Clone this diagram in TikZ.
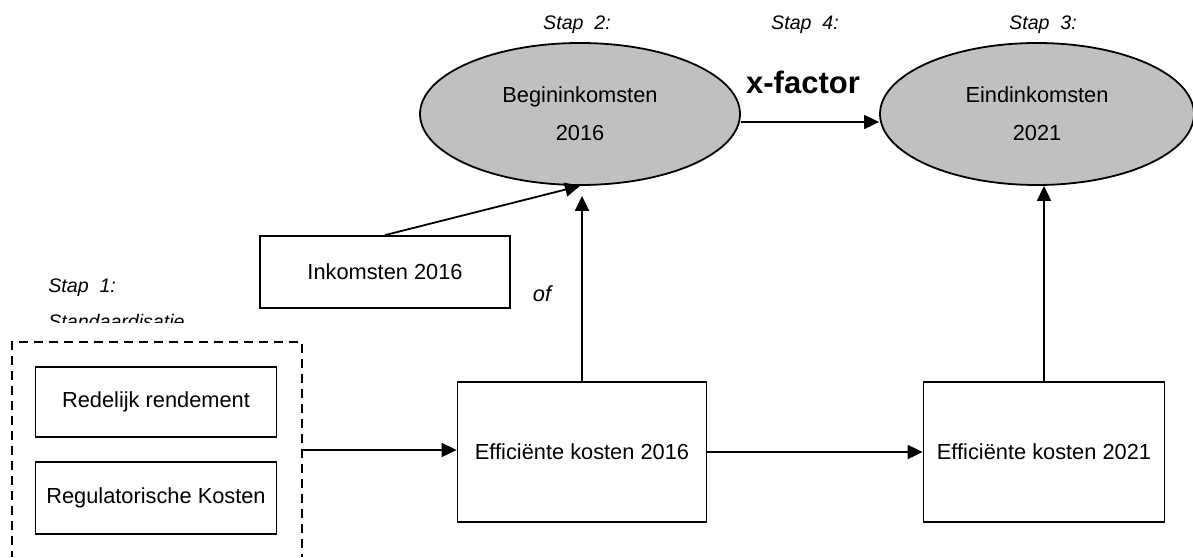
\documentclass[tikz,border=0pt]{standalone}
\usepackage{fontspec}
\setmainfont{Liberation Sans}
\usetikzlibrary{arrows.meta,shapes.geometric,positioning}
\definecolor{ovalgray}{HTML}{C0C0C0}

\begin{document}
\begin{tikzpicture}[x=0.5pt,y=-0.5pt,>={Triangle[length=7.5pt,width=7pt]},
box/.style={draw,line width=0.9pt,minimum width=125pt,minimum height=36pt,inner sep=2pt,font=\fontsize{10.9}{12}\selectfont},
bigbox/.style={box,minimum height=70pt},
oval/.style={ellipse,draw,fill=ovalgray,line width=0.9pt,minimum width=160pt,minimum height=71pt,inner sep=0pt,align=center,font=\fontsize{10.9}{19}\selectfont},
steplabel/.style={font=\fontsize{9.8}{11}\selectfont\itshape},
link/.style={->,line width=0.9pt}]
\useasboundingbox (0,0) rectangle (1193,557);
% top row
\node[oval] (begin) at (580,114) {Begininkomsten\\2016};
\node[oval,minimum width=157pt] (eind) at (1037,114) {Eindinkomsten\\2021};
\node[steplabel] (stap2) at (577,25) {Stap\ \ 2:};
\node[steplabel] (stap4) at (805,25) {Stap\ \ 4:};
\node[steplabel] (stap3) at (1043,25) {Stap\ \ 3:};
\node[font=\fontsize{15.5}{18}\selectfont\bfseries] (xfactor) at (803,82) {x-factor};
% middle
\node[box] (inkomsten) at (385,272) {Inkomsten 2016};
\node[font=\fontsize{10.9}{12}\selectfont\itshape] (of) at (542,294) {of};
\node[steplabel,anchor=west,inner sep=0pt] (stap1) at (48,288) {Stap\ \ 1:};
\begin{scope}
\clip (0,0) rectangle (400,322);
\node[steplabel,anchor=base west,inner sep=0pt] (standaard) at (48,328) {Standaardisatie};
\end{scope}
% bottom row
\begin{scope}
\clip (0,0) rectangle (1193,556);
\node[draw,line width=0.9pt,dash pattern=on 4.5pt off 3pt,minimum width=145pt,minimum height=108pt] (std) at (157,450) {};
\end{scope}
\node[box,minimum width=120.5pt,minimum height=35pt] (redelijk) at (156,402) {Redelijk rendement};
\node[box,minimum width=120.5pt] (regulatorisch) at (156,498) {Regulatorische Kosten};
\node[bigbox,minimum width=124.5pt] (eff16) at (582,452) {Efficiënte kosten 2016};
\node[bigbox,minimum width=120.5pt] (eff21) at (1044,452) {Efficiënte kosten 2021};
% connectors
\draw[link] ([yshift=-4pt]begin.east) -- ([yshift=-4pt]eind.west);
\draw[link] (inkomsten.north) -- (begin.south);
\draw[link,shorten >=5pt] (eff16.north) -- (eff16.north |- begin.south);
\draw[link] (eff21.north) -- (eff21.north |- eind.south);
\draw[link] (std.east) -- (std.east -| eff16.west);
\draw[link] (eff16) -- (eff21);
\end{tikzpicture}
\end{document}
